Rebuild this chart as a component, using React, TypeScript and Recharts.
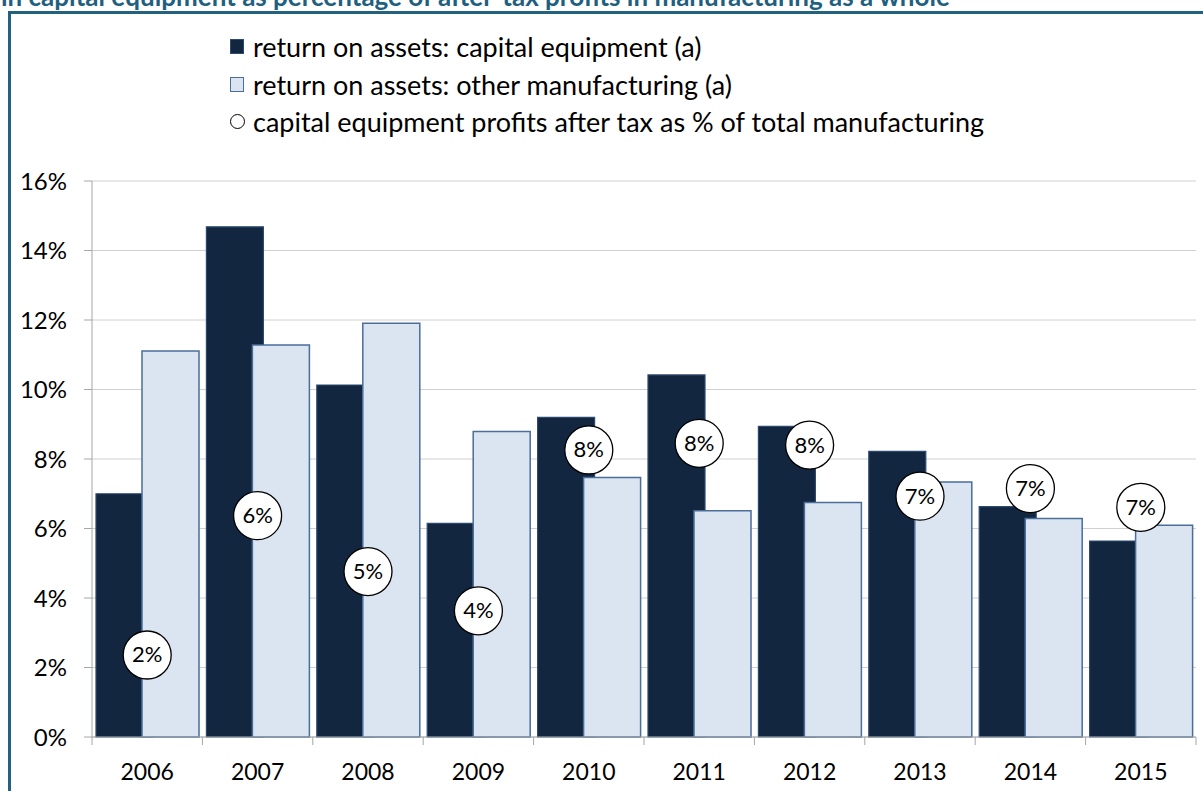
import { ComposedChart, Bar, Scatter, XAxis, YAxis, CartesianGrid } from 'recharts'

const years = ['2006', '2007', '2008', '2009', '2010', '2011', '2012', '2013', '2014', '2015']
const roaCapital = [7.0, 14.68, 10.13, 6.15, 9.2, 10.42, 8.94, 8.22, 6.63, 5.64]
const roaOther = [11.11, 11.28, 11.91, 8.79, 7.47, 6.51, 6.75, 7.34, 6.29, 6.09]
const profitShare = [2.36, 6.37, 4.76, 3.63, 8.26, 8.45, 8.4, 6.93, 7.15, 6.61]
const yTicks = [0, 2, 4, 6, 8, 10, 12, 14, 16]

const data = years.map((year, i) => ({
  year,
  capital: roaCapital[i],
  other: roaOther[i],
  share: profitShare[i],
}))

const FONT = 'Lato, "Open Sans", sans-serif'
const DARK = '#12263f'
const LIGHT = '#dbe5f1'

function XTick(props: any) {
  const { x, y, payload, index, visibleTicksCount } = props
  const half = payload?.offset ?? 55
  const last = index === visibleTicksCount - 1
  return (
    <g>
      <line x1={x - half} x2={x - half} y1={y} y2={y + 8} stroke="#a6a6a6" />
      {last && <line x1={x + half} x2={x + half} y1={y} y2={y + 8} stroke="#a6a6a6" />}
      <text x={x} y={y + 43} textAnchor="middle" fontSize={23} fontFamily={FONT} fill="#000">
        {payload.value}
      </text>
    </g>
  )
}

function Bubble(props: any) {
  const { cx, cy, payload } = props
  return (
    <g>
      <circle cx={cx} cy={cy} r={24} fill="#fff" stroke="#000" strokeWidth={1.3} />
      <text x={cx} y={cy + 7.5} textAnchor="middle" fontSize={22} fontFamily={FONT} fill="#000">
        {`${Math.round(payload.share)}%`}
      </text>
    </g>
  )
}

const legendItems = [
  { label: 'return on assets: capital equipment (a)', kind: 'dark' },
  { label: 'return on assets: other manufacturing (a)', kind: 'light' },
  { label: 'capital equipment profits after tax as % of total manufacturing', kind: 'circle' },
]

function Marker({ kind }: { kind: string }) {
  if (kind === 'circle') {
    return (
      <span style={{ display: 'inline-block', width: 15, height: 15, borderRadius: '50%', border: '1px solid #000', boxSizing: 'border-box', marginRight: 8 }} />
    )
  }
  return (
    <span
      style={{
        display: 'inline-block',
        width: 14,
        height: 15,
        background: kind === 'dark' ? DARK : LIGHT,
        border: `1px solid ${kind === 'dark' ? '#2c4a72' : '#4a6d9a'}`,
        boxSizing: 'border-box',
        marginRight: 9,
      }}
    />
  )
}

export default function App() {
  return (
    <div style={{ position: 'fixed', left: 0, top: 0, width: 1203, height: 791, overflow: 'hidden', background: '#fff', fontFamily: FONT }}>
      <div
        style={{
          position: 'absolute',
          left: 1,
          top: -20,
          fontSize: 26,
          fontWeight: 'bold',
          color: '#1f6080',
          whiteSpace: 'nowrap',
        }}
      >
        in capital equipment as percentage of after-tax profits in manufacturing as a whole
      </div>
      <div
        style={{
          position: 'absolute',
          left: 8,
          top: 11,
          width: 1220,
          height: 820,
          border: '3px solid #22627e',
          boxSizing: 'border-box',
        }}
      />
      <div style={{ position: 'absolute', left: 0, top: 0 }}>
        <ComposedChart
          width={1203}
          height={791}
          data={data}
          margin={{ top: 181, right: 7, bottom: 0, left: 0 }}
          barSize={57}
          barGap={-11}
        >
          <CartesianGrid vertical={false} stroke="#d0d0d0" />
          <XAxis
            dataKey="year"
            height={54}
            axisLine={{ stroke: '#a6a6a6' }}
            tickLine={false}
            tickSize={0}
            tickMargin={0}
            tick={<XTick />}
            interval={0}
          />
          <YAxis
            width={92}
            domain={[0, 16]}
            ticks={yTicks}
            tickFormatter={(v) => `${v}%`}
            tick={{ fill: '#000', fontSize: 24, fontFamily: FONT }}
            tickSize={8}
            tickMargin={17}
            tickLine={{ stroke: '#a6a6a6' }}
            axisLine={{ stroke: '#a6a6a6' }}
          />
          <Bar dataKey="capital" fill={DARK} stroke="#2c4a72" strokeWidth={1.2} isAnimationActive={false} />
          <Bar dataKey="other" fill={LIGHT} stroke="#4a6d9a" strokeWidth={1.5} isAnimationActive={false} />
          <Scatter dataKey="share" shape={<Bubble />} isAnimationActive={false} />
        </ComposedChart>
      </div>
      <div style={{ position: 'absolute', left: 230, top: 28, fontSize: 27, lineHeight: '37.5px', color: '#000' }}>
        {legendItems.map((item) => (
          <div key={item.label} style={{ display: 'flex', alignItems: 'center', whiteSpace: 'nowrap' }}>
            <Marker kind={item.kind} />
            <span>{item.label}</span>
          </div>
        ))}
      </div>
    </div>
  )
}
